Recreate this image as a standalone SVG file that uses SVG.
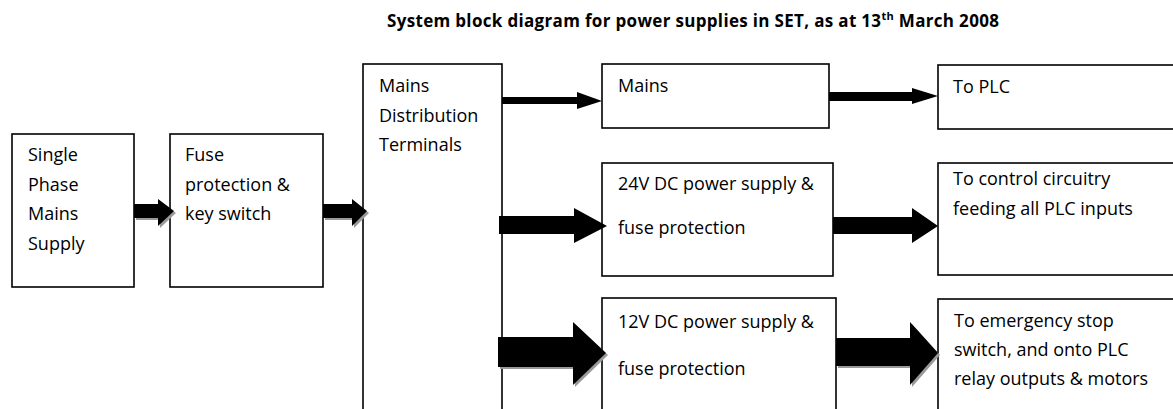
<svg xmlns="http://www.w3.org/2000/svg" width="1173" height="409" viewBox="0 0 1173 409">
<style>
.box{fill:#fff;stroke:#000;stroke-width:1.6}
.t{font-family:"Open Sans","Liberation Sans",sans-serif;font-size:18px;fill:#000}
.title{font-family:"Open Sans","Liberation Sans",sans-serif;font-size:17px;font-weight:bold;fill:#000}
.arr{fill:#000}
.sh{fill:#999}
</style>
<rect width="1173" height="409" fill="#fff"/>
<text class="title" x="387" y="27" textLength="612" lengthAdjust="spacing">System block diagram for power supplies in SET, as at 13<tspan font-size="11" dy="-7">th</tspan><tspan dy="7"> March 2008</tspan></text>

<g id="node-single-phase">
<rect class="box" x="12" y="134" width="122" height="153"/>
<text class="t" x="28" y="161">Single</text>
<text class="t" x="28" y="191">Phase</text>
<text class="t" x="28" y="220">Mains</text>
<text class="t" x="28" y="250">Supply</text>
</g>
<g id="node-fuse">
<rect class="box" x="170" y="134" width="153" height="153"/>
<text class="t" x="185" y="161">Fuse</text>
<text class="t" x="185" y="191">protection &amp;</text>
<text class="t" x="185" y="220">key switch</text>
</g>
<g id="node-distribution">
<rect class="box" x="363" y="64" width="139" height="360"/>
<text class="t" x="379" y="92">Mains</text>
<text class="t" x="379" y="122">Distribution</text>
<text class="t" x="379" y="151">Terminals</text>
</g>
<g id="node-mains">
<rect class="box" x="602" y="64" width="227" height="64"/>
<text class="t" x="618" y="92">Mains</text>
</g>
<g id="node-24v">
<rect class="box" x="602" y="163" width="231" height="113"/>
<text class="t" x="618" y="190">24V DC power supply &amp;</text>
<text class="t" x="618" y="234">fuse protection</text>
</g>
<g id="node-12v">
<rect class="box" x="602" y="298" width="234" height="126"/>
<text class="t" x="618" y="328">12V DC power supply &amp;</text>
<text class="t" x="618" y="375">fuse protection</text>
</g>
<g id="node-to-plc">
<rect class="box" x="938" y="65" width="250" height="64"/>
<text class="t" x="953" y="93">To PLC</text>
</g>
<g id="node-to-control">
<rect class="box" x="938" y="163" width="250" height="112"/>
<text class="t" x="953" y="185">To control circuitry</text>
<text class="t" x="953" y="215">feeding all PLC inputs</text>
</g>
<g id="node-to-emergency">
<rect class="box" x="938" y="299" width="250" height="125"/>
<text class="t" x="954" y="327">To emergency stop</text>
<text class="t" x="954" y="356">switch, and onto PLC</text>
<text class="t" x="954" y="385">relay outputs &amp; motors</text>
</g>

<g id="connectors">
<polygon class="sh" points="136,206 160,206 160,201 176,213 160,228 160,220 136,220"/>
<polygon class="arr" points="134,204 158,204 158,199 174,211 158,226 158,218 134,218"/>
<polygon class="sh" points="325,206 354,206 354,201 369,213 354,228 354,220 325,220"/>
<polygon class="arr" points="323,204 352,204 352,199 367,211 352,226 352,218 323,218"/>
<polygon class="arr" points="502,97 577,97 577,92 602,101 577,109 577,104 502,104"/>
<polygon class="arr" points="499,216 574,216 574,208 607,226 574,243 574,234 499,234"/>
<polygon class="sh" points="500,339 575,339 575,324 608,355 575,387 575,369 500,369"/>
<polygon class="arr" points="498,337 573,337 573,322 606,353 573,385 573,367 498,367"/>
<polygon class="arr" points="829,92 912,92 912,88 938,96 912,104 912,101 829,101"/>
<polygon class="arr" points="833,217 912,217 912,208 938,226 912,243 912,234 833,234"/>
<polygon class="sh" points="838,340 912,340 912,324 940,355 912,387 912,368 838,368"/>
<polygon class="arr" points="836,338 910,338 910,322 938,353 910,385 910,366 836,366"/>
</g>
</svg>
